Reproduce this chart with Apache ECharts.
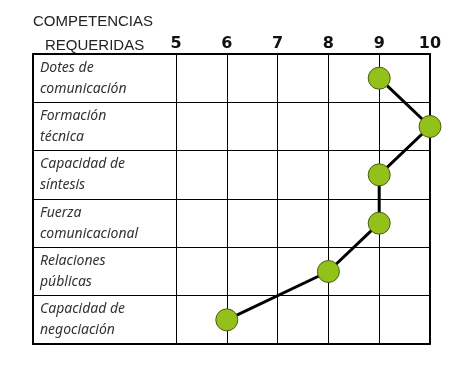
<!DOCTYPE html>
<html>
<head>
<meta charset="utf-8">
<script src="https://cdn.jsdelivr.net/npm/echarts@6/dist/echarts.min.js"></script>
<style>html,body{margin:0;padding:0;background:#fff}#c{width:476px;height:375px}</style>
</head>
<body>
<div id="c"></div>
<script>
var categories = ["Dotes de\ncomunicación", "Formación\ntécnica", "Capacidad de\nsíntesis", "Fuerza\ncomunicacional", "Relaciones\npúblicas", "Capacidad de\nnegociación"];
var values = [9, 10, 9, 9, 8, 6];
var tickMin = 5, tickMax = 10, tickStep = 1;
var headerLines = ["COMPETENCIAS", "REQUERIDAS"];

var chart = echarts.init(document.getElementById('c'), null, {renderer: 'canvas'});
var border = {show: true, lineStyle: {color: '#000', width: 2}};
var thin = {show: true, lineStyle: {color: '#000', width: 1}};
chart.setOption({
  animation: false,
  backgroundColor: '#fff',
  title: [
    {text: headerLines[0], left: 28, top: 9, textStyle: {fontFamily: 'Liberation Sans', fontSize: 15, fontWeight: 'normal', color: '#222'}},
    {text: headerLines[1], left: 40, top: 33, textStyle: {fontFamily: 'Liberation Sans', fontSize: 15, fontWeight: 'normal', color: '#222'}}
  ],
  grid: [
    {left: 33, width: 143, top: 54, bottom: 31},
    {left: 176, right: 46, top: 54, bottom: 31}
  ],
  xAxis: [
    {gridIndex: 0, type: 'value', min: 0, max: 1, position: 'top', axisLine: border, axisTick: {show: false}, axisLabel: {show: false}, splitLine: {show: false}},
    {gridIndex: 0, type: 'value', min: 0, max: 1, position: 'bottom', axisLine: border, axisTick: {show: false}, axisLabel: {show: false}, splitLine: {show: false}},
    {gridIndex: 1, type: 'value', min: tickMin, max: tickMax, interval: tickStep, position: 'top',
      axisLine: border,
      axisTick: {show: false},
      axisLabel: {margin: 2, color: '#111', fontFamily: 'DejaVu Sans', fontWeight: 'bold', fontSize: 16},
      splitLine: thin},
    {gridIndex: 1, type: 'value', min: tickMin, max: tickMax, position: 'bottom', axisLine: border, axisTick: {show: false}, axisLabel: {show: false}, splitLine: {show: false}}
  ],
  yAxis: [
    {gridIndex: 0, type: 'category', inverse: true, data: categories,
      axisLine: border,
      axisTick: {show: false},
      splitLine: thin,
      axisLabel: {inside: true, margin: 7, align: 'left', color: '#333', fontFamily: 'Noto Sans', fontStyle: 'italic', fontSize: 14, lineHeight: 21}},
    {gridIndex: 1, type: 'category', inverse: true, data: categories,
      axisLine: {show: false}, axisTick: {show: false}, axisLabel: {show: false},
      splitLine: thin},
    {gridIndex: 1, type: 'category', position: 'right', inverse: true, data: categories,
      axisLine: border, axisTick: {show: false}, axisLabel: {show: false}, splitLine: {show: false}}
  ],
  series: [{
    type: 'line', xAxisIndex: 2, yAxisIndex: 1, data: values, clip: false, z: 5,
    symbol: 'circle', symbolSize: 22,
    lineStyle: {color: '#000', width: 3},
    itemStyle: {color: '#92c11b', borderColor: '#4d5e12', borderWidth: 1}
  }]
});
</script>
</body>
</html>
